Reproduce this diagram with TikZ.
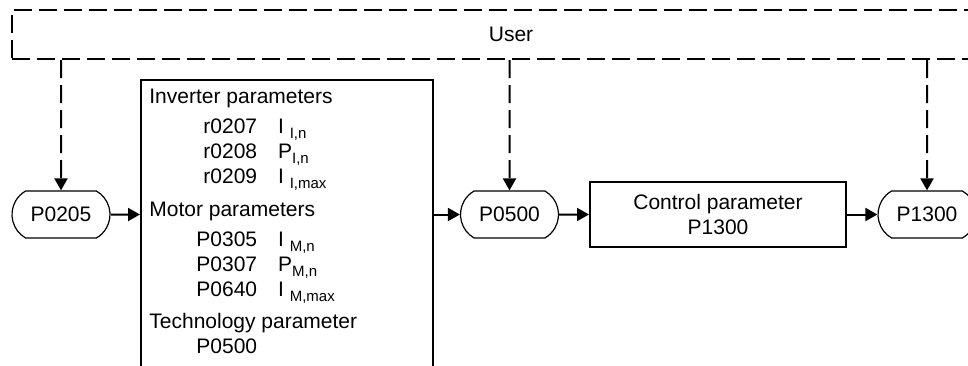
\documentclass[tikz,border=0pt]{standalone}
\usepackage{fontspec}
\setmainfont{Liberation Sans}
\usetikzlibrary{arrows.meta,shapes.misc}
\newcommand{\lowidx}[1]{\raisebox{-2.5pt}[0pt][0pt]{\fontsize{7.5}{9}\selectfont #1}}

\begin{document}
\begin{tikzpicture}[x=0.5pt,y=-0.5pt,font=\fontsize{10.5}{12.5}\selectfont,
	>={Triangle[length=6pt,width=6.5pt]},
	param/.style={draw,line width=0.6pt,rounded rectangle,rounded rectangle arc length=120,minimum width=49pt,minimum height=23.5pt,inner sep=0pt},
	block/.style={draw,line width=1pt,rectangle,inner sep=0pt},
	flow/.style={line width=1pt,->},
	userline/.style={line width=1pt,dash pattern=on 9pt off 3.5pt}]
	\useasboundingbox (0,0) rectangle (968,365);
	\node[block,userline,minimum width=499pt,minimum height=24.5pt] (user) at (511,34.5) {User};
	\node[param] (p0205) at (61,214.5) {P0205};
	\node[block,anchor=north west,minimum width=146pt,minimum height=172pt] (drive) at (140,79) {};
	\node[anchor=base west,inner sep=0pt] (drivetext) at (149,103) {%
	\begin{tabular}[t]{@{\hspace{23.5pt}}r@{\hspace{10.5pt}}l@{}}
	 \multicolumn{2}{@{}l@{}}{Inverter parameters}\\[2.5pt]
	 r0207 & I \lowidx{I,n}\\
	 r0208 & P\lowidx{I,n}\\
	 r0209 & I \lowidx{I,max}\\[4pt]
	 \multicolumn{2}{@{}l@{}}{Motor parameters}\\[2.5pt]
	 P0305 & I \lowidx{M,n}\\
	 P0307 & P\lowidx{M,n}\\
	 P0640 & I \lowidx{M,max}\\[3.5pt]
	 \multicolumn{2}{@{}l@{}}{Technology parameter}\\
	 P0500 &
	\end{tabular}};
	\node[param] (p0500) at (509.5,214.5) {P0500};
	\node[block,minimum width=128pt,minimum height=32.5pt,align=center] (ctrl) at (718,214.5) {Control parameter\\P1300};
	\node[param] (p1300) at (927,214.5) {P1300};
	% main flow
	\draw[flow] (p0205) -- (p0205 -| drive.west);
	\draw[flow] (p0500 -| drive.east) -- (p0500);
	\draw[flow] (p0500) -- (ctrl);
	\draw[flow] (ctrl) -- (p1300);
	% settings by the user
	\foreach \n in {p0205,p0500,p1300}
	\draw[userline,->] (user.south -| \n) -- (\n);
\end{tikzpicture}
\end{document}
